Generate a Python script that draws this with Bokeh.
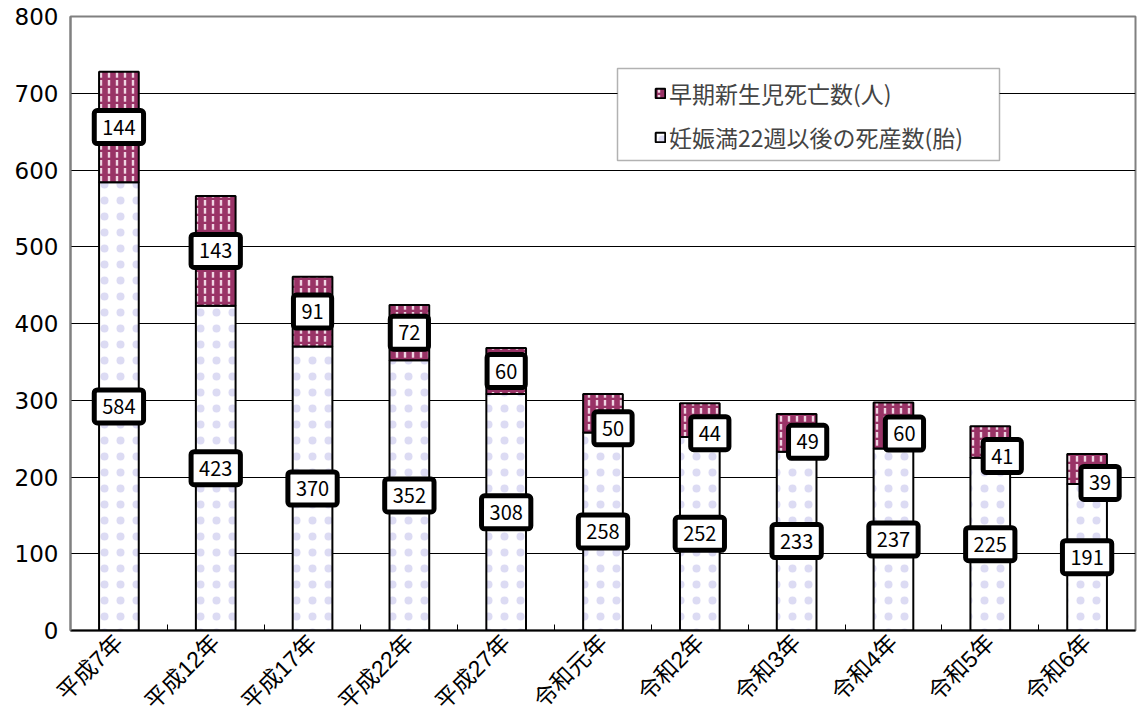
import math
from bokeh.plotting import figure
from bokeh.models import (ColumnDataSource, Range1d, FixedTicker, Legend, LegendItem,
                          BoxAnnotation)
from bokeh.core.properties import value
from bokeh.embed import file_html
from bokeh.resources import INLINE

# ---- data ----
years = ["平成7年", "平成12年", "平成17年", "平成22年", "平成27年", "令和元年",
         "令和2年", "令和3年", "令和4年", "令和5年", "令和6年"]
stillbirths = [584, 423, 370, 352, 308, 258, 252, 233, 237, 225, 191]
early_neonatal = [144, 143, 91, 72, 60, 50, 44, 49, 60, 41, 39]
y_ticks = [0, 100, 200, 300, 400, 500, 600, 700, 800]

name_still = "妊娠満22週以後の死産数(胎)"
name_early = "早期新生児死亡数(人)"

# ---- layout / styling helpers ----
FONT = "Noto Sans CJK JP"
n = len(years)
xc = [i + 0.5 for i in range(n)]
# label shift (screen px) for the upper series: later small segments are pushed right/down
shift_x = [0, 0, 0, 0, 0, 10, 10, 11, 11, 12, 13]
shift_y = [0, 0, 0, 0, 0, 15, 13, 9, 8, 14, 14]

src = ColumnDataSource(dict(
    x=xc,
    still=stillbirths,
    early=early_neonatal,
    top=[s + e for s, e in zip(stillbirths, early_neonatal)],
    still_mid=[s / 2 for s in stillbirths],
    early_mid=[s + e / 2 for s, e in zip(stillbirths, early_neonatal)],
    still_txt=[str(v) for v in stillbirths],
    early_txt=[str(v) for v in early_neonatal],
    sx=shift_x,
    sy=shift_y,
))

p = figure(width=1139, height=727, output_backend="svg", toolbar_location=None,
           x_range=Range1d(0, n), y_range=Range1d(0, 800),
           min_border_left=70, min_border_right=4, min_border_top=16, min_border_bottom=97)
p.outline_line_color = "#808080"
p.outline_line_width = 2
p.background_fill_color = "white"
p.border_fill_color = "white"

# bars
r_still = p.vbar(x="x", bottom=0, top="still", width=0.41, source=src,
                 fill_color="white", line_color="black", line_width=2,
                 hatch_pattern="dot", hatch_color="#8c88d8", hatch_scale=16,
                 hatch_weight=1, hatch_alpha=0.3)
r_early = p.vbar(x="x", bottom="still", top="top", width=0.41, source=src,
                 fill_color="#993366", line_color="black", line_width=2,
                 hatch_pattern="vertical_dash", hatch_color="#fff0f8", hatch_scale=8,
                 hatch_weight=2.4, hatch_alpha=0.85)

# value labels
common = dict(source=src, text_font=value(FONT), text_font_size="20px",
              text_color="black", text_align="center", text_baseline="middle",
              background_fill_color="white", border_line_color="black",
              border_line_width=5, padding=(8, 9), border_radius=3)
p.text(x="x", y="still_mid", text="still_txt", **common)
p.text(x="x", y="early_mid", text="early_txt", x_offset="sx", y_offset="sy", **common)

# axes
p.yaxis.ticker = FixedTicker(ticks=y_ticks)
p.yaxis.major_label_text_font = "DejaVu Sans"
p.yaxis.major_label_text_font_size = "23px"
p.yaxis.major_label_text_color = "black"
p.yaxis.major_tick_line_color = None
p.yaxis.major_tick_out = 0
p.yaxis.major_tick_in = 0
p.yaxis.minor_tick_line_color = None
p.yaxis.axis_line_color = "#808080"
p.yaxis.axis_line_width = 2
p.yaxis.major_label_standoff = 12

p.xaxis.ticker = FixedTicker(ticks=xc, minor_ticks=list(range(1, n)))
p.xaxis.major_label_overrides = {c: y for c, y in zip(xc, years)}
p.xaxis.major_label_orientation = math.pi / 4
p.xaxis.major_label_text_font = "Liberation Sans, Noto Sans CJK JP"
p.xaxis.major_label_text_font_size = "23px"
p.xaxis.major_label_text_color = "black"
p.xaxis.major_tick_line_color = None
p.xaxis.major_tick_out = 0
p.xaxis.major_tick_in = 0
p.xaxis.minor_tick_line_color = "black"
p.xaxis.minor_tick_in = 6
p.xaxis.minor_tick_out = 0
p.xaxis.axis_line_color = "black"
p.xaxis.axis_line_width = 2
p.xaxis.major_label_standoff = 8

p.xgrid.grid_line_color = None
p.ygrid.ticker = FixedTicker(ticks=y_ticks)
p.ygrid.grid_line_color = "black"
p.ygrid.grid_line_width = 1

# legend frame
box = BoxAnnotation(left=547, right=929, top=562, bottom=470,
                    left_units="screen", right_units="screen",
                    top_units="screen", bottom_units="screen",
                    fill_color="white", fill_alpha=1.0,
                    line_color="black", line_width=1.5)
p.add_layout(box)

legend = Legend(items=[LegendItem(label=name_early, renderers=[r_early]),
                       LegendItem(label=name_still, renderers=[r_still])],
                location=(584, 476), orientation="vertical",
                label_text_font=FONT, label_text_font_size="23px",
                glyph_width=12, glyph_height=12, label_standoff=3,
                spacing=10, padding=11, margin=0,
                border_line_color=None, background_fill_alpha=0)
p.add_layout(legend)

open("out.html", "w").write(file_html(p, INLINE))
